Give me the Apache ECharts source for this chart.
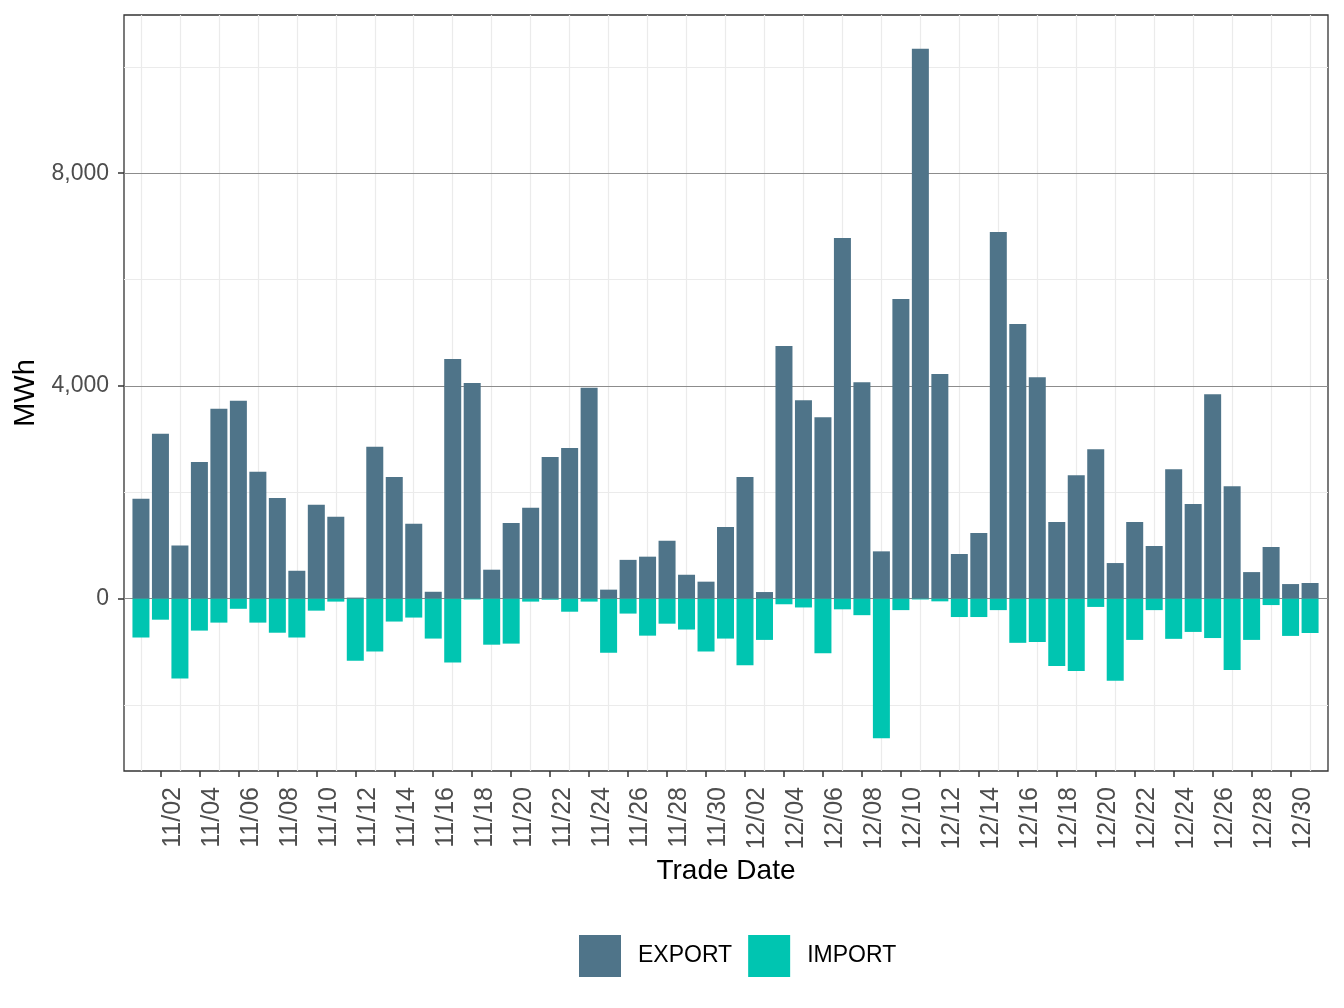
<!DOCTYPE html>
<html>
<head>
<meta charset="utf-8">
<script src="https://cdn.jsdelivr.net/npm/echarts@6/dist/echarts.min.js"></script>
<style>
html,body{margin:0;padding:0;background:#fff;}
#chart{width:1344px;height:1008px;}
</style>
</head>
<body>
<div id="chart"></div>
<script>
const dates = [
  '11/01','11/02','11/03','11/04','11/05','11/06','11/07','11/08','11/09','11/10',
  '11/11','11/12','11/13','11/14','11/15','11/16','11/17','11/18','11/19','11/20',
  '11/21','11/22','11/23','11/24','11/25','11/26','11/27','11/28','11/29','11/30',
  '12/01','12/02','12/03','12/04','12/05','12/06','12/07','12/08','12/09','12/10',
  '12/11','12/12','12/13','12/14','12/15','12/16','12/17','12/18','12/19','12/20',
  '12/21','12/22','12/23','12/24','12/25','12/26','12/27','12/28','12/29','12/30','12/31'
];
const exportVals = [
  1880,3100,1000,2570,3570,3720,2385,1895,525,1765,
  1540,20,2855,2290,1410,130,4505,4055,545,1425,
  1710,2665,2835,3965,170,730,790,1090,450,320,
  1350,2290,125,4750,3730,3410,6780,4070,890,5635,
  10340,4225,840,1235,6895,5165,4165,1440,2320,2810,
  670,1440,990,2435,1780,3845,2115,500,970,275,295
];
const importVals = [
  -730,-395,-1500,-600,-450,-190,-450,-640,-730,-225,
  -55,-1165,-995,-430,-355,-750,-1200,-15,-865,-845,
  -55,-20,-245,-55,-1015,-280,-695,-470,-580,-995,
  -750,-1250,-775,-105,-165,-1025,-200,-310,-2625,-215,
  -15,-50,-345,-345,-215,-830,-815,-1265,-1360,-155,
  -1545,-775,-215,-755,-625,-740,-1340,-775,-120,-700,-645
];
const yTickValues = [0, 4000, 8000];
const yMinorGrid = [-2000, 2000, 6000, 10000];

const xTickIdx = [];
for (let i = 1; i < dates.length; i += 2) xTickIdx.push(i);
const xGridIdx = [];
for (let i = 0; i < dates.length; i += 2) xGridIdx.push(i);

const FONT = 'Liberation Sans';
const chart = echarts.init(document.getElementById('chart'), null, {renderer: 'canvas'});

const gridLine = (color, w) => ({color: color, width: w, type: 'solid'});

chart.setOption({
  animation: false,
  backgroundColor: '#ffffff',
  textStyle: {fontFamily: FONT},
  grid: {left: 124, right: 16, top: 15, bottom: 237, show: true, borderColor: '#333333', borderWidth: 1.3, backgroundColor: 'transparent'},
  legend: {
    data: ['EXPORT', 'IMPORT'],
    left: 574, top: 930,
    icon: 'rect', itemWidth: 42, itemHeight: 42, itemGap: 16,
    textStyle: {fontSize: 23, color: '#000', fontFamily: FONT, padding: [0, 0, 0, 12]}
  },
  xAxis: {
    type: 'value',
    min: -0.87, max: 60.92,
    name: 'Trade Date', nameLocation: 'middle', nameGap: 86,
    nameTextStyle: {fontSize: 28, color: '#000', fontFamily: FONT},
    axisLine: {show: false, onZero: false},
    splitLine: {show: false},
    axisTick: {show: true, customValues: xTickIdx, length: 6, lineStyle: {color: '#333333', width: 1.5}},
    axisLabel: {
      customValues: xTickIdx, rotate: 90, verticalAlign: 'top', margin: 16,
      fontSize: 25, color: '#4d4d4d', fontFamily: FONT,
      formatter: v => dates[Math.round(v)] || ''
    }
  },
  yAxis: {
    type: 'value',
    min: -3240, max: 10975,
    name: 'MWh', nameLocation: 'middle', nameGap: 84,
    nameTextStyle: {fontSize: 29, color: '#000', fontFamily: FONT},
    axisLine: {show: false, onZero: false},
    splitLine: {show: false},
    axisTick: {show: true, customValues: yTickValues, length: 6, lineStyle: {color: '#333333', width: 1.5}},
    axisLabel: {
      customValues: yTickValues, margin: 15,
      fontSize: 23, color: '#4d4d4d', fontFamily: FONT,
      formatter: v => Number(v).toLocaleString('en-US')
    }
  },
  series: [
    {
      name: 'EXPORT', type: 'bar', stack: 'total', barWidth: 17,
      itemStyle: {color: '#4F7489'},
      data: exportVals.map((v, i) => [i, v]),
      markLine: {
        silent: true, symbol: 'none', z: 1, label: {show: false}, animation: false,
        emphasis: {disabled: true},
        data: [
          ...xGridIdx.map(i => ({xAxis: i, lineStyle: gridLine('#ebebeb', 1.2)})),
          ...yMinorGrid.map(v => ({yAxis: v, lineStyle: gridLine('#ebebeb', 1.2)})),
          ...yTickValues.map(v => ({yAxis: v, lineStyle: gridLine('#8c8c8c', 1)}))
        ]
      }
    },
    {
      name: 'IMPORT', type: 'bar', stack: 'total', barWidth: 17,
      itemStyle: {color: '#00C5B1'},
      data: importVals.map((v, i) => [i, v])
    }
  ]
});
</script>
</body>
</html>
